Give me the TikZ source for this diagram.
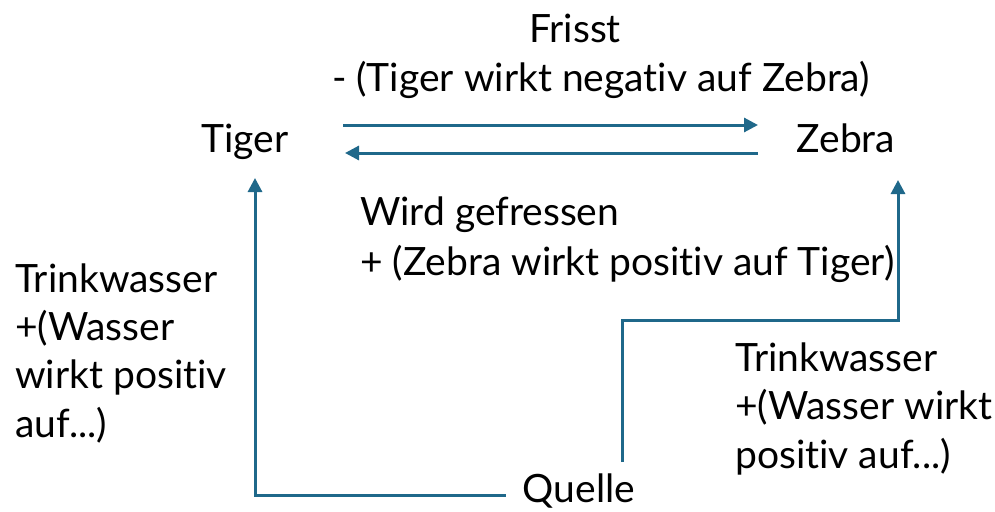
\documentclass[tikz,border=0pt]{standalone}
\usepackage{fontspec}
\setmainfont{Lato}[Ligatures=NoCommon]
\usetikzlibrary{arrows.meta,calc}
\definecolor{linkblue}{RGB}{31,104,138}
\begin{document}
\begin{tikzpicture}[x=1pt,y=-1pt,
  every node/.style={font=\fontsize{39}{48.3}\selectfont, inner sep=0pt},
  lbl/.style={align=left, anchor=base west},
  link/.style={draw=linkblue, line width=3pt, -{Triangle[length=14pt,width=14pt]}}]
\useasboundingbox (0,0) rectangle (995,511);
% species and the water source
\node (tiger)  [anchor=base] at (245,152) {Tiger};
\node (zebra)  [anchor=base] at (846,152) {Zebra};
\node (quelle) [anchor=base] at (579,502) {Quelle};
% relation labels (multi-line blocks are placed by their last baseline)
\node (frisst) [anchor=base] at (575,43) {Frisst};
\node (neg) [anchor=base] at (601,92) {- (Tiger wirkt negativ auf Zebra)};
\node (wird) [lbl] at (360,225) {Wird gefressen};
\node (pos) [lbl] at (360,275) {+ (Zebra wirkt positiv auf Tiger)};
\node (wl) [lbl] at (15,437) {Trinkwasser\\+(Wasser\\wirkt positiv\\auf...)};
\node (wr) [lbl] at (735,468) {Trinkwasser\\+(Wasser wirkt\\positiv auf...)};
% connector ends
\coordinate (t1) at ($(tiger.base)+(98,-27)$);
\coordinate (z1) at ($(zebra.base)+(-88,-27)$);
\coordinate (z2) at ($(zebra.base)+(-88,1)$);
\coordinate (t2) at ($(tiger.base)+(100,1)$);
\coordinate (tfoot) at ($(tiger.base)+(10,26)$);
\coordinate (zfoot) at ($(zebra.base)+(52,28)$);
\coordinate (qleft) at ($(quelle.base west)+(-17,-7)$);
\coordinate (qtop) at ($(quelle.base)+(43,-40)$);
% connectors
\draw[link] (t1) -- (z1);
\draw[link] (z2) -- (t2);
\draw[link] (qleft) -| (tfoot);
\draw[link] (qtop) |- ($(zfoot)+(0,140)$) -- (zfoot);
\end{tikzpicture}
\end{document}
